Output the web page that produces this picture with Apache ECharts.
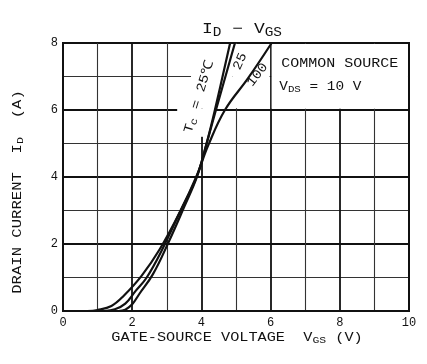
<!DOCTYPE html>
<html><head><meta charset="utf-8">
<script src="https://cdn.jsdelivr.net/npm/echarts@6/dist/echarts.min.js"></script>
<style>html,body{margin:0;padding:0;background:#fff}#c{width:427px;height:364px}</style>
</head><body><div id="c"></div>
<script>
// Data (VGS in V, ID in A)
const curveNames = ['Tc=-25', 'Tc=25', 'Tc=100'];
const vgsM25 = [1.6, 1.8, 2.0, 2.2, 2.6, 3.05, 3.5, 3.87, 4.15, 4.39, 4.83];
const idM25  = [0, 0.04, 0.2, 0.5, 1.1, 2.05, 3.1, 4.0, 5.0, 6.0, 8.0];
const vgs25  = [1.2, 1.5, 1.8, 2.1, 2.42, 2.85, 3.4, 3.86, 4.15, 4.42, 4.97];
const id25   = [0, 0.05, 0.22, 0.6, 1.0, 1.8, 3.0, 4.0, 5.0, 6.0, 8.0];
const vgs100 = [0.7, 1.0, 1.4, 1.75, 2.27, 2.8, 3.4, 3.85, 4.2, 4.68, 5.35, 6.03];
const id100  = [0, 0.03, 0.15, 0.45, 1.05, 1.85, 3.0, 4.0, 4.95, 6.0, 6.95, 8.0];
const xTicks = [0, 2, 4, 6, 8, 10];
const yTicks = [0, 2, 4, 6, 8];

const pairs = (xs, ys) => xs.map((x, i) => [x, ys[i]]);
const FONT = '"Liberation Mono", "DejaVu Sans Mono", monospace';
const INK = '#111';

const chart = echarts.init(document.getElementById('c'), null, {renderer: 'canvas'});
const curveStyle = {color: INK, width: 2.2};
function curve(name, xs, ys) {
  return {name, type: 'line', data: pairs(xs, ys), smooth: 0.4, symbol: 'none',
    lineStyle: curveStyle, z: 5, silent: true};
}
const whiteAreas = [
  [[3.7, 6.05], [4.9, 7.97]],
  [[4.9, 6.05], [5.97, 7.97]],
  [[3.3, 5.95], [4.4, 6.05]],
  [[3.95, 5.2], [4.05, 6.0]],
  [[6.03, 6.04], [9.97, 7.97]]
].map(a => [{coord: a[0]}, {coord: a[1]}]);

chart.setOption({
  animation: false,
  backgroundColor: '#fff',
  grid: {left: 63, right: 18, top: 43, bottom: 53, show: true, borderColor: INK, borderWidth: 2},
  xAxis: {type: 'value', min: 0, max: 10, interval: 2,
    axisLine: {show: true, onZero: false, lineStyle: {color: INK, width: 2}},
    axisTick: {show: false},
    axisLabel: {color: INK, fontFamily: FONT, fontSize: 12, margin: 6,
      formatter: v => xTicks.includes(v) ? String(v) : ''},
    splitLine: {show: true, lineStyle: {color: INK, width: 1.8}},
    minorTick: {show: false, splitNumber: 2},
    minorSplitLine: {show: true, lineStyle: {color: '#333', width: 1.1}}},
  yAxis: {type: 'value', min: 0, max: 8, interval: 2,
    axisLine: {show: true, onZero: false, lineStyle: {color: INK, width: 2}},
    axisTick: {show: false},
    axisLabel: {color: INK, fontFamily: FONT, fontSize: 12, margin: 5,
      formatter: v => yTicks.includes(v) ? String(v) : ''},
    splitLine: {show: true, lineStyle: {color: INK, width: 1.8}},
    minorTick: {show: false, splitNumber: 2},
    minorSplitLine: {show: true, lineStyle: {color: '#333', width: 1.1}}},
  series: [
    {type: 'line', data: [], z: 1, silent: true,
      markArea: {silent: true, itemStyle: {color: '#fff', opacity: 1}, data: whiteAreas}},
    curve(curveNames[0], vgsM25, idM25),
    curve(curveNames[1], vgs25, id25),
    curve(curveNames[2], vgs100, id100)
  ]
});

function P(x, y) { return chart.convertToPixel({gridIndex: 0}, [x, y]); }
const SX = 1.28;
function txt(x, y, text, opts) {
  opts = opts || {};
  return {type: 'text', x, y, rotation: opts.rot || 0, scaleX: opts.sx || SX, z: 20,
    style: {text, fill: INK, font: (opts.size || 12) + 'px ' + FONT,
      textAlign: opts.align || 'center', textVerticalAlign: 'middle', rich: opts.rich}};
}
const subRich = s => ({a: {fontSize: s, fontFamily: FONT, fill: INK},
  s: {fontSize: s - 3, fontFamily: FONT, fill: INK, padding: [s * 0.45, 0, 0, 0]}});

const pT = P(3.93, 6.4), p25 = P(5.12, 7.45), p100 = P(5.62, 7.05);
const pBox1 = P(8.0, 7.38), pBox2 = P(6.25, 6.68);
const deg = Math.PI / 180;
chart.setOption({graphic: [
  txt(242, 29, '{a|I}{s|D} {a|−} {a|V}{s|GS}', {size: 15, rich: subRich(15), sx: 1.2}),
  txt(237, 338, 'GATE-SOURCE VOLTAGE  {a|V}{s|GS} {a|(V)}', {size: 12, rich: subRich(12), sx: 1.27}),
  txt(18, 192, 'DRAIN CURRENT  {a|I}{s|D}  {a|(A)}', {size: 12, rich: subRich(12), sx: 1.3, rot: Math.PI / 2}),
  txt(pBox1[0], pBox1[1], 'COMMON SOURCE', {size: 12, sx: 1.25}),
  txt(pBox2[0], pBox2[1], '{a|V}{s|DS}{a| = 10 V}', {size: 12, rich: subRich(12), sx: 1.2, align: 'left'}),
  txt(pT[0], pT[1], '{a|T}{s|c}{a| = 25℃}', {size: 13, rich: subRich(13), sx: 1.15, rot: 73 * deg}),
  txt(p25[0], p25[1], '25', {size: 13, sx: 1.1, rot: 66 * deg}),
  txt(p100[0], p100[1], '100', {size: 13, sx: 1.1, rot: 52 * deg})
]});
</script></body></html>
